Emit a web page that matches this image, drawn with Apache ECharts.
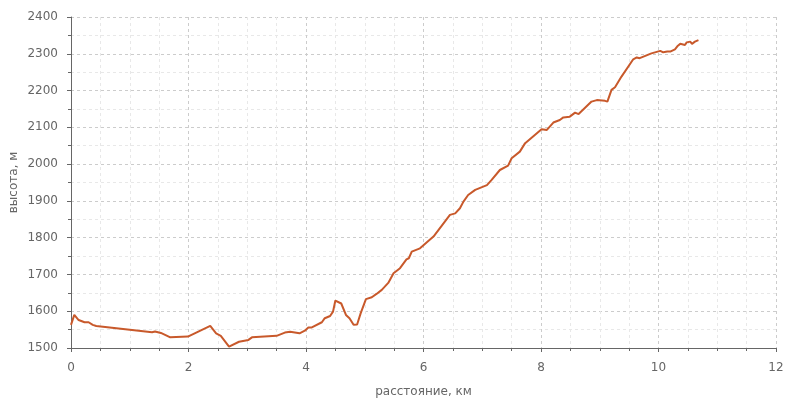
<!DOCTYPE html>
<html>
<head>
<meta charset="utf-8">
<script src="https://cdn.jsdelivr.net/npm/echarts@6/dist/echarts.min.js"></script>
<style>html,body{margin:0;padding:0;background:#fff}#c{width:800px;height:400px}</style>
</head>
<body>
<div id="c"></div>
<script>
const distanceKm = [0, 0.056, 0.13, 0.23, 0.3, 0.37, 0.43, 1.38, 1.43, 1.53, 1.69, 1.99, 2.37, 2.47, 2.55, 2.69, 2.86, 3.02, 3.08, 3.5, 3.64, 3.73, 3.89, 3.98, 4.04, 4.1, 4.27, 4.32, 4.41, 4.46, 4.5, 4.6, 4.68, 4.74, 4.81, 4.87, 4.93, 5.02, 5.12, 5.2, 5.29, 5.4, 5.49, 5.6, 5.71, 5.75, 5.8, 5.94, 5.97, 6.17, 6.45, 6.54, 6.62, 6.68, 6.76, 6.88, 7.08, 7.16, 7.30, 7.44, 7.5, 7.64, 7.73, 8.01, 8.1, 8.21, 8.32, 8.38, 8.49, 8.58, 8.64, 8.86, 8.95, 8.98, 9.09, 9.13, 9.2, 9.26, 9.37, 9.57, 9.63, 9.68, 9.88, 10.03, 10.08, 10.15, 10.2, 10.28, 10.33, 10.37, 10.45, 10.48, 10.54, 10.57, 10.62, 10.68];
const elevationM = [1563, 1590, 1576, 1570, 1570, 1563, 1560, 1543, 1545, 1541, 1529, 1531, 1560, 1540, 1533, 1504, 1517, 1522, 1529, 1533, 1542, 1544, 1540, 1547, 1556, 1556, 1570, 1581, 1587, 1599, 1629, 1621, 1590, 1581, 1563, 1564, 1594, 1633, 1638, 1647, 1658, 1677, 1703, 1717, 1741, 1744, 1762, 1771, 1773, 1803, 1862, 1866, 1880, 1898, 1916, 1930, 1943, 1957, 1984, 1996, 2016, 2034, 2057, 2095, 2093, 2113, 2120, 2127, 2129, 2140, 2136, 2170, 2174, 2170, 2172, 2170, 2202, 2209, 2238, 2285, 2290, 2288, 2301, 2308, 2304, 2306, 2306, 2312, 2322, 2327, 2324, 2331, 2333, 2327, 2333, 2337];
const xTicks = [0, 2, 4, 6, 8, 10, 12];
const yTicks = [1500, 1600, 1700, 1800, 1900, 2000, 2100, 2200, 2300, 2400];
const xName = 'расстояние, км';
const yName = 'высота, м';

const points = distanceKm.map((d, i) => [d, elevationM[i]]);
const chart = echarts.init(document.getElementById('c'), null, {renderer: 'canvas'});
const font = 'DejaVu Sans';
const axisCommon = {
  axisLine: {show: true, lineStyle: {color: '#666', width: 1}},
  axisTick: {show: true, length: 4, lineStyle: {color: '#666'}},
  minorTick: {show: true, length: 3, lineStyle: {color: '#666'}},
  axisLabel: {color: '#666', fontFamily: font, fontSize: 12, formatter: v => String(v)},
  splitLine: {show: true, lineStyle: {color: '#cccccc', type: [3, 3], width: 1}},
  minorSplitLine: {show: true, lineStyle: {color: '#e8e8e8', type: [3, 3], width: 1}},
  nameTextStyle: {color: '#666', fontFamily: font, fontSize: 12},
  nameMoveOverlap: false
};
chart.setOption({
  animation: false,
  grid: {left: 71, right: 24, top: 17, bottom: 52, containLabel: false, outerBoundsMode: 'none'},
  xAxis: Object.assign({}, axisCommon, {
    type: 'value', min: xTicks[0], max: xTicks[xTicks.length - 1], interval: 2,
    name: xName, nameLocation: 'middle', nameGap: 38,
    minorTick: Object.assign({}, axisCommon.minorTick, {splitNumber: 4}),
    axisLabel: Object.assign({}, axisCommon.axisLabel, {margin: 14})
  }),
  yAxis: Object.assign({}, axisCommon, {
    type: 'value', min: yTicks[0], max: yTicks[yTicks.length - 1], interval: 100,
    name: yName, nameLocation: 'middle', nameGap: 51,
    minorTick: Object.assign({}, axisCommon.minorTick, {splitNumber: 2}),
    axisLabel: Object.assign({}, axisCommon.axisLabel, {margin: 13})
  }),
  series: [{
    type: 'line', data: points, showSymbol: false, smooth: false,
    lineStyle: {color: '#c8592b', width: 2},
    itemStyle: {color: '#c8592b'}
  }]
});
</script>
</body>
</html>
